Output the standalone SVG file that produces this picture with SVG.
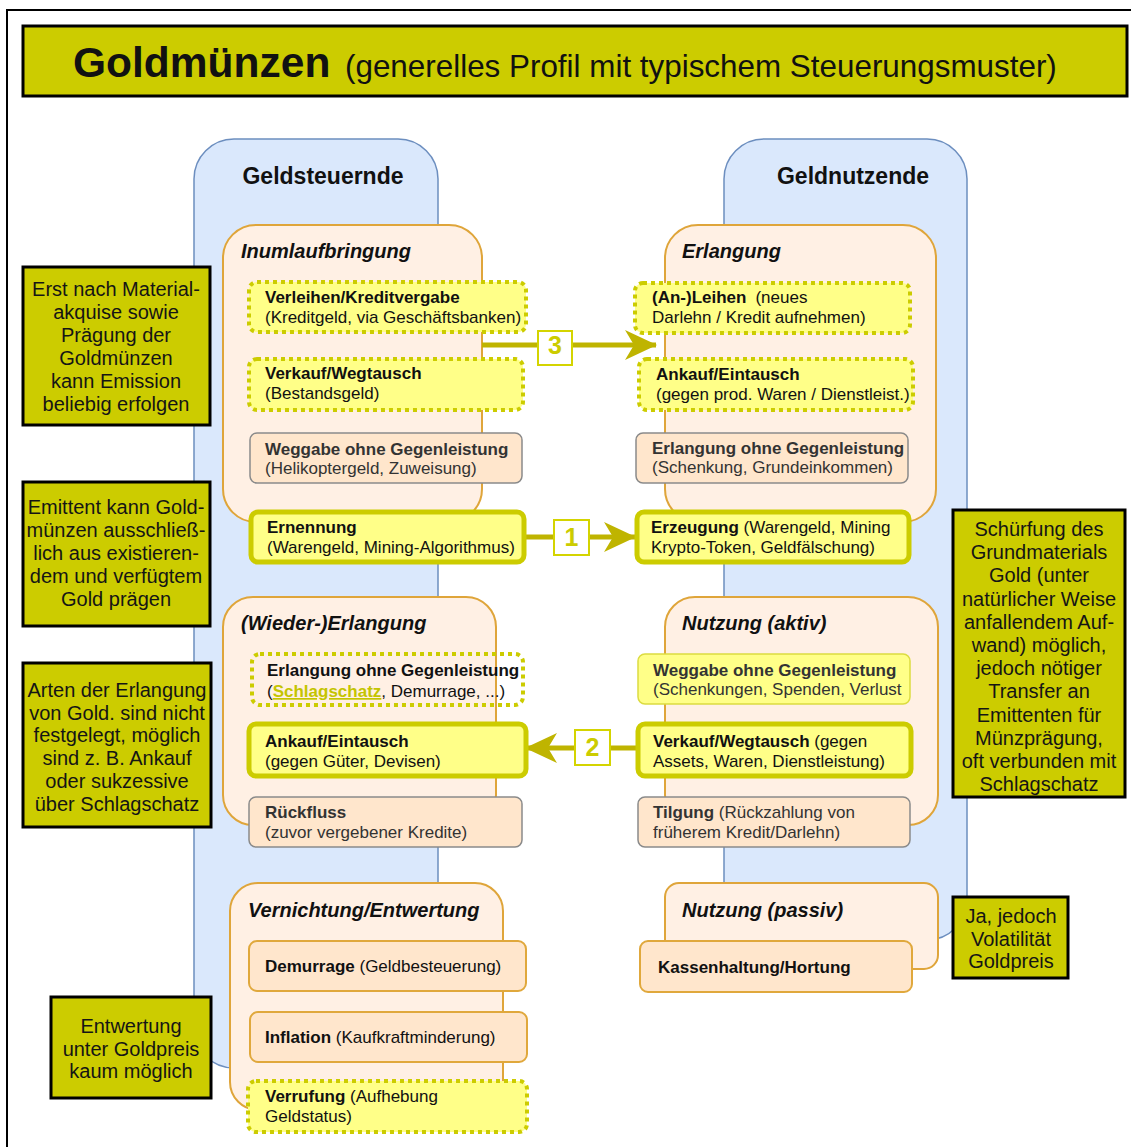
<svg xmlns="http://www.w3.org/2000/svg" width="1131" height="1147" viewBox="0 0 1131 1147">
<defs>
<style>
text{font-family:"Liberation Sans",Arial,sans-serif;fill:#111}
.blue{fill:#dae8fc;stroke:#6c8ebf;stroke-width:1.5}
.cont{fill:#fff0e4;stroke:#dfa53a;stroke-width:2}
.peach{fill:#ffe6cc;stroke:#8a8a8a;stroke-width:1.5}
.peachO{fill:#ffe6cc;stroke:#e0a83c;stroke-width:2}
.dot{fill:#ffff88;stroke:#cccc00;stroke-width:4;stroke-dasharray:4 4}
.dotn{fill:none;stroke:#cccc00;stroke-width:4;stroke-dasharray:4 4}
.thick{fill:#ffff88;stroke:#cccc00;stroke-width:5}
.thin{fill:#ffff88;stroke:#dcdc40;stroke-width:1.5}
.note{fill:#cccc00;stroke:#000;stroke-width:3}
.lbl{fill:#fff;stroke:#d4d400;stroke-width:2}
.lt{font-size:25px;font-weight:bold;fill:#cccc00;text-anchor:middle}
.arr{stroke:#bfb400;stroke-width:5;fill:none;marker-end:url(#ah)}
.hdr{font-size:23px;font-weight:bold;text-anchor:middle}
.ct{font-size:20px;font-weight:bold;font-style:italic}
.bx{font-size:17px}
.g{fill:#333}
.b{font-weight:bold}
.nt{font-size:20px;text-anchor:middle;fill:#151515}
</style>
<marker id="ah" viewBox="0 0 32 32" refX="31" refY="16" markerWidth="32" markerHeight="32" markerUnits="userSpaceOnUse" orient="auto">
<path d="M0,1 L32,16 L0,31 L9,16 Z" fill="#bfb400"/>
</marker>
</defs>

<rect x="7" y="10" width="1140" height="1150" fill="none" stroke="#000" stroke-width="2"/>

<g id="title">
<rect x="23" y="26" width="1104" height="70" fill="#cccc00" stroke="#000" stroke-width="3"/>
<text x="73" y="77"><tspan font-weight="bold" font-size="42.5">Goldmünzen</tspan><tspan x="345" font-size="31.4">(generelles Profil mit typischem Steuerungsmuster)</tspan></text>
</g>

<g id="geldsteuernde">
<rect class="blue" x="194" y="139" width="244" height="929" rx="40"/>
<text class="hdr" x="323" y="184">Geldsteuernde</text>
</g>
<g id="geldnutzende">
<rect class="blue" x="724" y="139" width="243" height="801" rx="40"/>
<text class="hdr" x="853" y="184">Geldnutzende</text>
</g>

<g id="inumlaufbringung">
<rect class="cont" x="223" y="225" width="259" height="297" rx="33"/>
<text class="ct" x="241" y="258">Inumlaufbringung</text>
</g>
<g id="erlangung">
<rect class="cont" x="665" y="225" width="271" height="297" rx="33"/>
<text class="ct" x="682" y="258">Erlangung</text>
</g>
<g id="wiedererlangung">
<rect class="cont" x="223" y="597" width="273" height="228" rx="30"/>
<text class="ct" x="241" y="630">(Wieder-)Erlangung</text>
</g>
<g id="nutzung-aktiv">
<rect class="cont" x="665" y="597" width="273" height="228" rx="30"/>
<text class="ct" x="682" y="630">Nutzung (aktiv)</text>
</g>
<g id="vernichtung">
<rect class="cont" x="230" y="883" width="273" height="227" rx="28"/>
<text class="ct" x="248" y="917">Vernichtung/Entwertung</text>
</g>
<g id="nutzung-passiv">
<rect class="cont" x="665" y="883" width="273" height="86" rx="14"/>
<text class="ct" x="682" y="917">Nutzung (passiv)</text>
</g>

<g id="connectors">
<line class="arr" x1="482" y1="345" x2="656" y2="345"/>
<line class="arr" x1="526" y1="537" x2="635" y2="537"/>
<line class="arr" x1="637" y1="748" x2="526" y2="748"/>
<rect class="lbl" x="538" y="331" width="34" height="34"/>
<text class="lt" x="555" y="354">3</text>
<rect class="lbl" x="554" y="520" width="35" height="35"/>
<text class="lt" x="571.5" y="546">1</text>
<rect class="lbl" x="575" y="730" width="35" height="35"/>
<text class="lt" x="592.5" y="756">2</text>
</g>

<g id="verleihen">
<rect class="dot" x="249" y="282" width="277" height="50" rx="8"/>
<text class="bx" x="265" y="303"><tspan class="b">Verleihen/Kreditvergabe</tspan><tspan x="265" y="323">(Kreditgeld, via Geschäftsbanken)</tspan></text>
</g>
<g id="verkauf-l">
<rect class="dot" x="249" y="359" width="274" height="51" rx="8"/>
<text class="bx" x="265" y="379"><tspan class="b">Verkauf/Wegtausch</tspan><tspan x="265" y="399">(Bestandsgeld)</tspan></text>
</g>
<g id="weggabe-l">
<rect class="peach" x="250" y="433" width="272" height="50" rx="7"/>
<text class="bx g" x="265" y="455"><tspan class="b">Weggabe ohne Gegenleistung</tspan><tspan x="265" y="474">(Helikoptergeld, Zuweisung)</tspan></text>
</g>
<g id="ernennung">
<rect class="thick" x="251" y="512" width="273" height="50" rx="7"/>
<text class="bx" x="267" y="533"><tspan class="b">Ernennung</tspan><tspan x="267" y="553">(Warengeld, Mining-Algorithmus)</tspan></text>
</g>

<g id="anleihen">
<rect class="dot" x="635" y="283" width="275" height="50" rx="8"/>
<text class="bx" x="652" y="303"><tspan class="b">(An-)Leihen</tspan><tspan dx="9">(neues</tspan><tspan x="652" y="323">Darlehn / Kredit aufnehmen)</tspan></text>
</g>
<g id="ankauf-r">
<rect class="dot" x="639" y="359" width="274" height="51" rx="8"/>
<text class="bx" x="656" y="380"><tspan class="b">Ankauf/Eintausch</tspan><tspan x="656" y="400">(gegen prod. Waren / Dienstleist.)</tspan></text>
</g>
<g id="erlangung-ohne-r">
<rect class="peach" x="636" y="433" width="272" height="50" rx="7"/>
<text class="bx g" x="652" y="454"><tspan class="b">Erlangung ohne Gegenleistung</tspan><tspan x="652" y="473">(Schenkung, Grundeinkommen)</tspan></text>
</g>
<g id="erzeugung">
<rect class="thick" x="637" y="512" width="272" height="50" rx="7"/>
<text class="bx" x="651" y="533"><tspan class="b">Erzeugung</tspan> (Warengeld, Mining<tspan x="651" y="553">Krypto-Token, Geldfälschung)</tspan></text>
</g>

<g id="erlangung-ohne-l">
<rect class="dotn" x="252" y="654" width="271" height="51" rx="8"/>
<text class="bx" x="267" y="676"><tspan class="b">Erlangung ohne Gegenleistung</tspan><tspan x="267" y="697">(<tspan class="b" fill="#c4c400" text-decoration="underline">Schlagschatz</tspan>, Demurrage, ...)</tspan></text>
</g>
<g id="ankauf-l">
<rect class="thick" x="249" y="724" width="277" height="52" rx="7"/>
<text class="bx" x="265" y="747"><tspan class="b">Ankauf/Eintausch</tspan><tspan x="265" y="767">(gegen Güter, Devisen)</tspan></text>
</g>
<g id="rueckfluss">
<rect class="peach" x="249" y="797" width="273" height="50" rx="7"/>
<text class="bx g" x="265" y="818"><tspan class="b">Rückfluss</tspan><tspan x="265" y="838">(zuvor vergebener Kredite)</tspan></text>
</g>

<g id="weggabe-r">
<rect class="thin" x="638" y="654" width="272" height="50" rx="7"/>
<text class="bx g" x="653" y="676"><tspan class="b">Weggabe ohne Gegenleistung</tspan><tspan x="653" y="695">(Schenkungen, Spenden, Verlust</tspan></text>
</g>
<g id="verkauf-r">
<rect class="thick" x="638" y="724" width="273" height="52" rx="7"/>
<text class="bx" x="653" y="747"><tspan class="b">Verkauf/Wegtausch</tspan> (gegen<tspan x="653" y="767">Assets, Waren, Dienstleistung)</tspan></text>
</g>
<g id="tilgung">
<rect class="peach" x="638" y="797" width="272" height="50" rx="7"/>
<text class="bx g" x="653" y="818"><tspan class="b">Tilgung</tspan> (Rückzahlung von<tspan x="653" y="838">früherem Kredit/Darlehn)</tspan></text>
</g>

<g id="demurrage">
<rect class="peachO" x="249" y="941" width="277" height="50" rx="8"/>
<text class="bx" x="265" y="972"><tspan class="b">Demurrage</tspan> (Geldbesteuerung)</text>
</g>
<g id="inflation">
<rect class="peachO" x="250" y="1012" width="277" height="50" rx="8"/>
<text class="bx" x="265" y="1043"><tspan class="b">Inflation</tspan> (Kaufkraftminderung)</text>
</g>
<g id="verrufung">
<rect class="dot" x="248" y="1081" width="279" height="51" rx="8"/>
<text class="bx" x="265" y="1102"><tspan class="b">Verrufung</tspan> (Aufhebung<tspan x="265" y="1122">Geldstatus)</tspan></text>
</g>
<g id="kassenhaltung">
<rect class="peachO" x="640" y="941" width="272" height="51" rx="8"/>
<text class="bx b" x="658" y="973">Kassenhaltung/Hortung</text>
</g>

<g id="note-emission">
<rect class="note" x="23" y="267" width="187" height="158"/>
<text class="nt" x="116" y="296">Erst nach Material-<tspan x="116" dy="23">akquise sowie</tspan><tspan x="116" dy="23">Prägung der</tspan><tspan x="116" dy="23">Goldmünzen</tspan><tspan x="116" dy="23">kann Emission</tspan><tspan x="116" dy="23">beliebig erfolgen</tspan></text>
</g>
<g id="note-emittent">
<rect class="note" x="23" y="482" width="187" height="144"/>
<text class="nt" x="116" y="514">Emittent kann Gold-<tspan x="116" dy="23">münzen ausschließ-</tspan><tspan x="116" dy="23">lich aus existieren-</tspan><tspan x="116" dy="23">dem und verfügtem</tspan><tspan x="116" dy="23">Gold prägen</tspan></text>
</g>
<g id="note-arten">
<rect class="note" x="23" y="663" width="188" height="164"/>
<text class="nt" x="117" y="697">Arten der Erlangung<tspan x="117" dy="22.7">von Gold. sind nicht</tspan><tspan x="117" dy="22.7">festgelegt, möglich</tspan><tspan x="117" dy="22.7">sind z. B. Ankauf</tspan><tspan x="117" dy="22.7">oder sukzessive</tspan><tspan x="117" dy="22.7">über Schlagschatz</tspan></text>
</g>
<g id="note-entwertung">
<rect class="note" x="51" y="997" width="160" height="101"/>
<text class="nt" x="131" y="1033">Entwertung<tspan x="131" dy="22.5">unter Goldpreis</tspan><tspan x="131" dy="22.5">kaum möglich</tspan></text>
</g>
<g id="note-schuerfung">
<rect class="note" x="953" y="510" width="172" height="287"/>
<text class="nt" x="1039" y="536">Schürfung des<tspan x="1039" dy="23.2">Grundmaterials</tspan><tspan x="1039" dy="23.2">Gold (unter</tspan><tspan x="1039" dy="23.2">natürlicher Weise</tspan><tspan x="1039" dy="23.2">anfallendem Auf-</tspan><tspan x="1039" dy="23.2">wand) möglich,</tspan><tspan x="1039" dy="23.2">jedoch nötiger</tspan><tspan x="1039" dy="23.2">Transfer an</tspan><tspan x="1039" dy="23.2">Emittenten für</tspan><tspan x="1039" dy="23.2">Münzprägung,</tspan><tspan x="1039" dy="23.2">oft verbunden mit</tspan><tspan x="1039" dy="23.2">Schlagschatz</tspan></text>
</g>
<g id="note-volatilitaet">
<rect class="note" x="953" y="897" width="115" height="81"/>
<text class="nt" x="1011" y="923">Ja, jedoch<tspan x="1011" dy="22.5">Volatilität</tspan><tspan x="1011" dy="22.5">Goldpreis</tspan></text>
</g>
</svg>
